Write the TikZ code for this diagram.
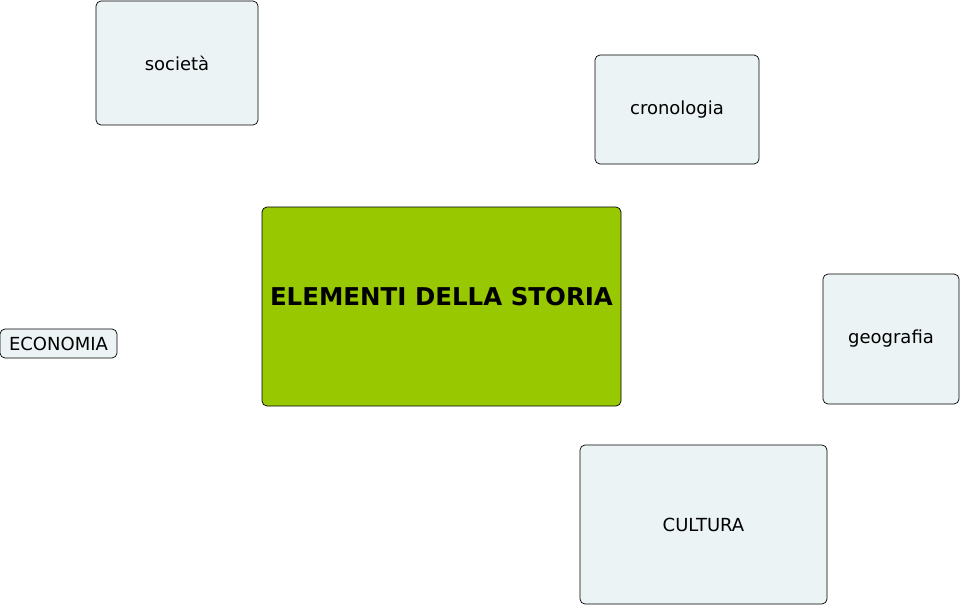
\documentclass[tikz,border=0pt]{standalone}
\usepackage{fontspec}
\setmainfont{DejaVu Sans}
\definecolor{boxfill}{HTML}{EBF3F5}
\definecolor{mainfill}{HTML}{97C800}

\begin{document}
\begin{tikzpicture}[x=1pt,y=-1pt]
\tikzset{
  conceptnode/.style={rectangle,rounded corners=5pt,draw=black,line width=0.7pt,fill=boxfill,inner sep=2pt,font=\fontsize{18}{21}\selectfont},
  mainnode/.style={conceptnode,fill=mainfill,font=\fontsize{24.5}{28}\selectfont\bfseries,text depth=20pt}
}
\useasboundingbox (0,0) rectangle (961,607);
\node[mainnode,minimum width=359pt,minimum height=199pt] (n_main) at (441.5,306.5) {ELEMENTI DELLA STORIA};
\node[conceptnode,minimum width=162pt,minimum height=124pt] (n_soc) at (177,63) {società};
\node[conceptnode,minimum width=164pt,minimum height=109pt] (n_cron) at (677,109.5) {cronologia};
\node[conceptnode,minimum width=117pt,minimum height=29pt] (n_eco) at (58.5,343.5) {ECONOMIA};
\node[conceptnode,minimum width=136pt,minimum height=130pt] (n_geo) at (891,339) {geografia};
\node[conceptnode,minimum width=247pt,minimum height=159pt] (n_cult) at (703.5,524.5) {CULTURA};
\end{tikzpicture}
\end{document}
